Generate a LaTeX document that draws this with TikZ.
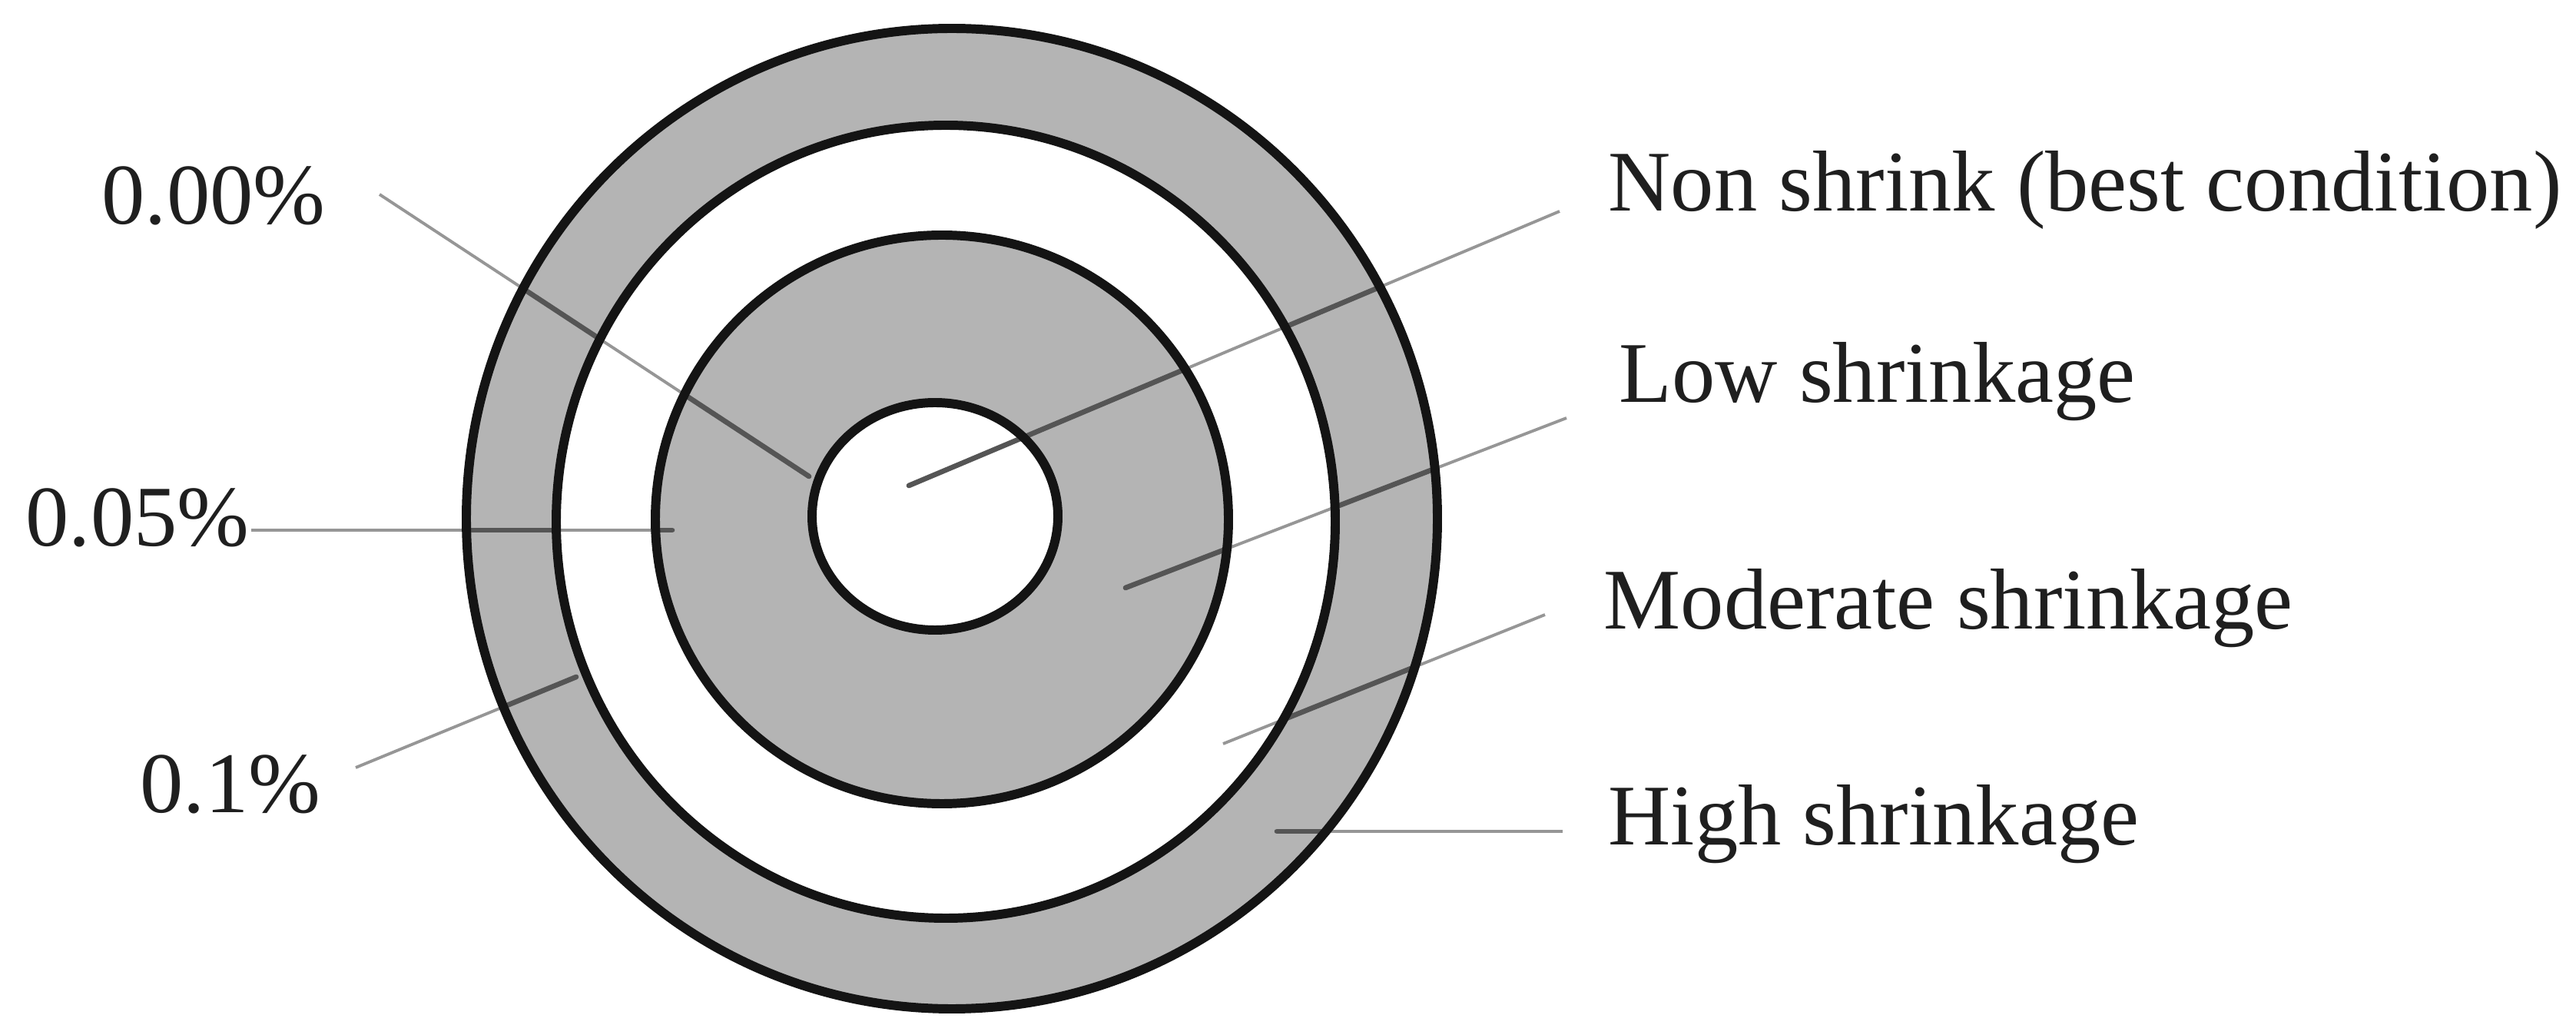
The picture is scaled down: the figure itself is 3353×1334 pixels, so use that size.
\documentclass[tikz,border=0pt]{standalone}
\usepackage{fontspec}
\setmainfont{Liberation Serif}
\definecolor{ringgray}{RGB}{180,180,180}
\definecolor{leadgray}{RGB}{150,150,150}
\definecolor{leaddark}{RGB}{85,85,85}
\begin{document}
\begin{tikzpicture}[x=0.01cm,y=-0.01cm,
  lbl/.style={anchor=base west,inner sep=0pt,font=\fontsize{32}{38}\selectfont,text=black!88},
  ring/.style={line width=3.4pt,draw=black!92},
  lead/.style={line width=1.1pt,draw=leadgray},
  leadd/.style={line width=1.9pt,draw=leaddark,line cap=round}]
\useasboundingbox (0,0) rectangle (3353,1334);
% fills
\fill[ringgray] (1239,675) ellipse [x radius=632,y radius=638];
\fill[white] (1231,679) ellipse [x radius=507,y radius=516];
\fill[ringgray] (1226,676) ellipse [x radius=373,y radius=370];
\fill[white] (1217,672) ellipse [x radius=160,y radius=148];
% labels
\node[lbl] (l0) at (132,292) {0.00\%};
\node[lbl] (l5) at (33,711) {0.05\%};
\node[lbl] (l1) at (182,1058) {0.1\%};
\node[lbl] (rn) at (2093,275) {Non shrink (best condition)};
\node[lbl] (rl) at (2107,524) {Low shrinkage};
\node[lbl] (rm) at (2087,819) {Moderate shrinkage};
\node[lbl] (rh) at (2093,1100) {High shrinkage};
% connector ends
\coordinate (a0) at (494,253);  \coordinate (b0) at (1053,620);
\coordinate (a5) at (327,690);  \coordinate (b5) at (875,690);
\coordinate (a1) at (463,999);  \coordinate (b1) at (750,881);
\coordinate (an) at (2030,275); \coordinate (bn) at (1183,632);
\coordinate (al) at (2039,544); \coordinate (bl) at (1465,765);
\coordinate (am) at (2011,800); \coordinate (bm) at (1592,968);
\coordinate (ah) at (2034,1082);\coordinate (bh) at (1662,1082);
% connectors
\foreach \p in {0,5,1,n,l,m,h}{\draw[lead] (a\p) -- (b\p);}
\begin{scope}[even odd rule]
\clip (1239,675) ellipse [x radius=632,y radius=638]
  (1231,679) ellipse [x radius=507,y radius=516]
  (1226,676) ellipse [x radius=373,y radius=370];
\foreach \p in {0,5,1,n,l,m,h}{\draw[leadd] (a\p) -- (b\p);}
\end{scope}
% ring outlines
\draw[ring] (1239,675) ellipse [x radius=632,y radius=638];
\draw[ring] (1231,679) ellipse [x radius=507,y radius=516];
\draw[ring] (1226,676) ellipse [x radius=373,y radius=370];
\draw[ring] (1217,672) ellipse [x radius=160,y radius=148];
\end{tikzpicture}
\end{document}
